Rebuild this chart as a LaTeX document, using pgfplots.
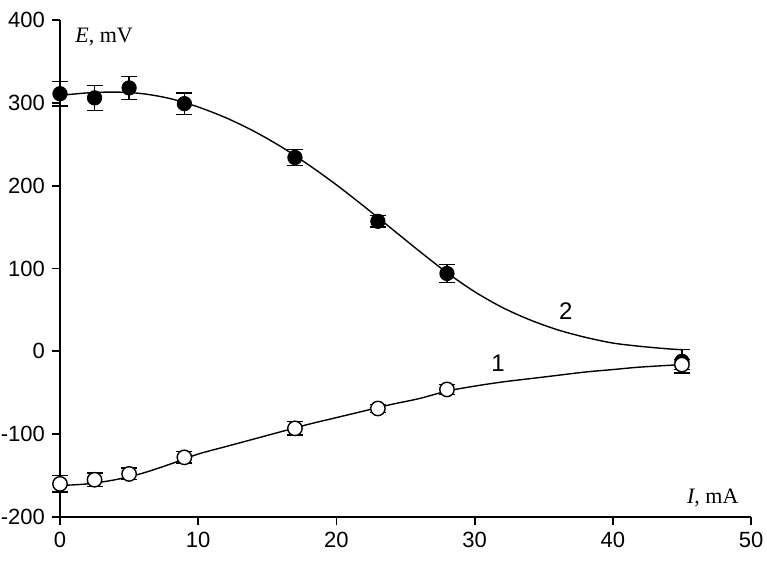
\documentclass[border=0pt]{standalone}
\usepackage{fontspec}
\setmainfont{Liberation Sans}
\newfontfamily\serif{Liberation Serif}
\usepackage{pgfplots}
\pgfplotsset{compat=1.18}

% measured data, E in mV vs I in mA
\pgfplotstableread{
x   y    e
0   311  15
2.5 306  15
5   318  14
9   299  13
17  234  10
23  157  7
28  94   11
45  -12  14
}\filled
\pgfplotstableread{
x   y     e
0   -160  10
2.5 -155  8
5   -148  7
9   -128  7
17  -93   8
23  -69   5
28  -46   6
45  -16   6
}\hollow

\begin{document}
\begin{tikzpicture}
\begin{axis}[
  scale only axis, width=345.5pt, height=248.5pt,
  xmin=0, xmax=50, ymin=-200, ymax=400,
  xtick={0,10,...,50}, ytick={-200,-100,...,400},
  axis lines=left, axis line style={-, line width=0.9pt},
  tick style={line width=0.9pt, black}, tick align=outside,
  major tick length=4pt,
  ticklabel style={font=\fontsize{11}{13}\selectfont},
  /pgf/number format/assume math mode=true,
  clip=false,
]
% fitted curves
\addplot[smooth, line width=0.7pt] coordinates {
 (0,309)(2,312)(4,313)(6,311)(8,305)(10,295)(12,282)(14,266)(16,247)(18,225)
 (20,201)(22,175)(24,148)(26,121)(28,95)(30,72)(32,53)(34,38)(36,26)(38,17)
 (40,10)(42,6)(44,3)(45,2)};
\addplot[smooth, line width=0.7pt] coordinates {
 (0,-162)(2,-160)(4,-155)(6,-147)(8,-136)(10,-124)(12,-115)(14,-106)(16,-97)
 (18,-88)(20,-80)(22,-72)(24,-64)(26,-57)(28,-48)(30,-42)(32,-37)(34,-33)
 (36,-29)(38,-25)(40,-22)(42,-19)(45,-16)};
% data points
\addplot[only marks, mark=*, mark size=3.6pt, black,
  error bars/.cd, y dir=both, y explicit,
  error mark options={rotate=90, mark size=4pt, line width=0.7pt},
  error bar style={line width=0.7pt}]
  table[x=x, y=y, y error=e] {\filled};
\addplot[only marks, mark=*, mark size=3.6pt, black, mark options={fill=white, line width=0.7pt},
  error bars/.cd, y dir=both, y explicit,
  error mark options={rotate=90, mark size=4pt, line width=0.7pt},
  error bar style={line width=0.7pt}]
  table[x=x, y=y, y error=e] {\hollow};
\node[font=\fontsize{12}{14}\selectfont] at (axis cs:31.7,-14) {1};
\node[font=\fontsize{12}{14}\selectfont] at (axis cs:36.6,49) {2};
\node[anchor=west, font=\serif\fontsize{11}{13}\selectfont] at (axis cs:0.6,379) {\textit{E}, mV};
\node[anchor=east, font=\serif\fontsize{11}{13}\selectfont] at (axis cs:49.6,-177) {\textit{I}, mA};
\coordinate (sw) at (rel axis cs:0,0);
\coordinate (ne) at (rel axis cs:1,1);
\end{axis}
\pgfresetboundingbox
\path ([shift={(-30pt,-21.5pt)}]sw) rectangle ([shift={(8pt,10pt)}]ne);
\end{tikzpicture}
\end{document}
